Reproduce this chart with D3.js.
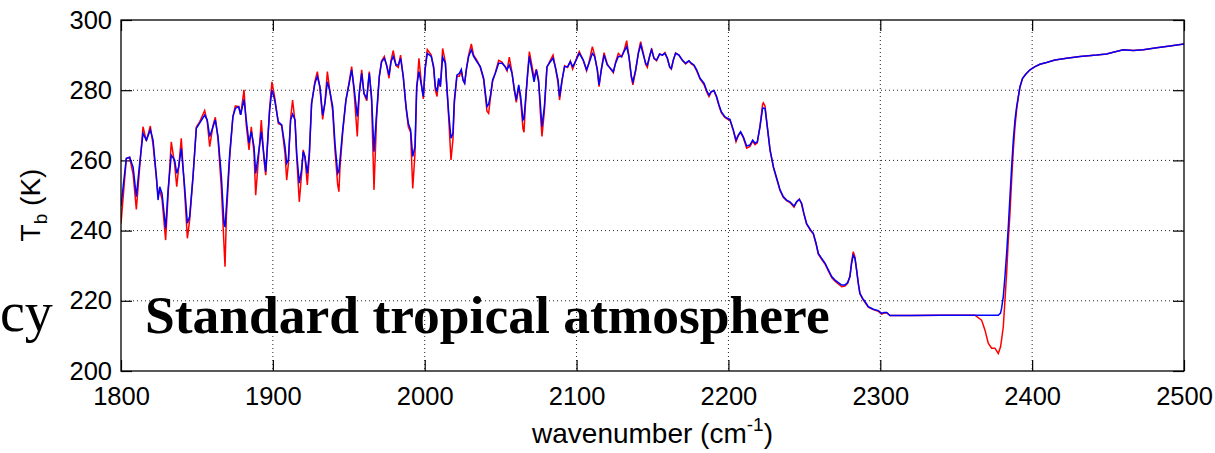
<!DOCTYPE html>
<html lang="en">
<head>
<meta charset="UTF-8">
<script src="https://d3js.org/d3.v7.min.js"></script>
<title>Tb spectrum</title>
<style>
  body { margin: 0; background: #fff; }
  svg { display: block; }
</style>
</head>
<body>
<script>
// wavenumber (cm-1) and brightness temperature of the two runs
var wavenumber = [
  1800, 1803.5, 1805.7, 1808, 1810.1, 1812.3, 1814.5, 1816.7, 1819.3, 1821.1,
  1823.3, 1824.4, 1825.5, 1827, 1829.4, 1831, 1833.1, 1835.3, 1836.7, 1838,
  1839.7, 1841.9, 1843.7, 1845.2, 1847.4, 1849.6, 1851.8, 1855.1, 1856.8, 1858.4,
  1860.6, 1862.1, 1863.9, 1866.1, 1867.8, 1868.5, 1869.4, 1871.6, 1873.7, 1875.3,
  1877.5, 1878.8, 1881, 1882.5, 1884.3, 1885.8, 1887.6, 1888.7, 1891.3, 1892.4,
  1894.2, 1895.3, 1897.9, 1899.4, 1901.2,
  1903.6, 1905.8, 1908, 1909.1, 1910.2, 1911.7, 1913, 1914.6, 1915.7, 1917.4,
  1918.9, 1920, 1921.1, 1922.7, 1924, 1925.5, 1927.7, 1929.3, 1931, 1932.8,
  1934.3, 1935.9, 1937.6, 1939.4, 1940.9, 1942.7, 1943.5, 1944.2, 1946, 1948.1,
  1950.3, 1951.9, 1953.4, 1955.6, 1956.9, 1958.5, 1960, 1961.8, 1963.5, 1965,
  1966.6, 1968.3, 1970.1, 1971.6, 1973.4, 1974.9, 1976.5, 1977.8, 1979.3, 1981.1,
  1982.6, 1984.1, 1985.9, 1987.7, 1989.2, 1990.7, 1992.1, 1993.6, 1994.7, 1996.2,
  1998, 1999.1, 2000.2, 2001.7,
  2004.3, 2005.9, 2007, 2008.1, 2009.2, 2010.3, 2011.8, 2013.6, 2014.7, 2015.8,
  2017.3, 2018.6, 2019.5, 2021.2, 2022.8, 2024.1, 2025.2, 2026.3, 2027.4, 2028.9,
  2030.7, 2032.2, 2034.4, 2036.6, 2038.8, 2041, 2042.1, 2043.2, 2044.7, 2046.5,
  2048.7, 2050.9, 2053.1, 2054.2, 2055.7, 2057.5, 2058.8, 2060.3, 2061.9, 2063.2,
  2064.7, 2065.4, 2066.2, 2067.8, 2068.9, 2070.6, 2072, 2073.5, 2075, 2076.1,
  2077.2, 2078.8, 2080.5, 2082.7, 2084.5, 2086, 2087.8, 2088.8, 2090.4, 2092.1,
  2094.1, 2095.9, 2097.4, 2098.7, 2100.3, 2101.8,
  2104.4, 2106.6, 2108.2, 2110.4, 2111.9, 2113.7, 2114.8, 2116.3, 2118.1, 2120.2,
  2122.4, 2124.2, 2125.7, 2127.5, 2129.7, 2131.2, 2133, 2134.5, 2136.1, 2137.1,
  2138.9, 2140.7, 2142.2, 2144, 2145.5, 2146.6, 2148.1, 2149.4, 2151, 2152.7,
  2154.7, 2156.5, 2158.2, 2159.8, 2161.3, 2162.4, 2163.7, 2165.2, 2167.4, 2169.6,
  2171.8, 2174, 2175.6, 2177.3, 2179.1, 2181.3, 2183.9, 2185.7, 2187.2, 2188.7,
  2190.5, 2192.2, 2193.8, 2195.3, 2197.5, 2199.3,
  2201, 2203.2, 2205, 2206.5, 2208, 2209.8, 2212, 2214.2, 2216, 2217.5,
  2219, 2220.8, 2222.5, 2223, 2224.1, 2225.6, 2227.4, 2229.6, 2231.8, 2234,
  2236.1, 2238.3, 2240.5, 2243.2, 2244.9, 2246.7, 2248.2, 2249.7, 2251.5, 2254.1,
  2255.9, 2257.7, 2259.2, 2261.4, 2263.6, 2265.8, 2268, 2270.2, 2272.4, 2274.6,
  2276.7, 2278.5, 2280, 2281.1, 2282.2, 2283.3, 2284.4, 2285.5, 2286.6, 2288.4,
  2289.9, 2292.1, 2295.4, 2298.7, 2300.9, 2302.4, 2304.2, 2306.4,
  2320, 2340, 2362.3, 2366.7, 2368.9, 2371.1, 2373.3, 2375.5, 2377.7, 2379.2,
  2379.9, 2381, 2382.1, 2383.2, 2384.3, 2385.4, 2386.5, 2387.6, 2388.7, 2389.8,
  2390.9, 2392, 2393.7, 2395.9, 2398.6, 2401.9, 2405.1, 2409.5, 2415, 2422.7,
  2431.5, 2442.5, 2449, 2453.4, 2460, 2466.6, 2473.2, 2482, 2490.7, 2500
];

var tbBlue = [
  247, 260.6, 260.9, 258, 249.7, 259.2, 267.7, 265.8, 268.7, 265.8,
  255.4, 248.7, 252.5, 250.6, 240.6, 251.6, 261.5, 260.1, 256.3, 258.2,
  263.4, 252.5, 242.1, 244, 255.4, 269.1, 270.6, 272.9, 271.5, 266.8,
  269.6, 271.5, 266.8, 255.4, 242.1, 241, 246.8, 262, 272.5, 274.8,
  275.3, 273, 277.4, 271.5, 264.9, 268.2, 263.9, 256.3, 264.4, 268.2,
  261.1, 256.8, 274.4, 280.1, 277.2,
  271, 270.1, 263.9, 259.2, 260.1, 271.5, 273.2, 271.5, 262, 253.5,
  257.3, 262.5, 261.1, 256.3, 262, 276.3, 282, 283.9, 281, 272.9,
  276.3, 282.4, 279.6, 275.3, 264.9, 256.3, 257, 260.1, 268.7, 277.2,
  282, 285.8, 281, 272.5, 279.1, 284.8, 279.1, 277.7, 284.8, 278.2,
  262.5, 273.4, 283.9, 288.1, 289.1, 287.2, 284.3, 288.1, 289.6, 287.2,
  287.2, 289.1, 283.9, 275.3, 270.6, 268.7, 261.1, 263.9, 281, 285.3,
  281, 278.2, 285.8, 290.5,
  289.6, 286.7, 281, 279.6, 283.4, 281, 289.4, 287.7, 280.1, 273.4,
  266.3, 267.7, 277.2, 284.3, 284.8, 285.9, 282.9, 282, 285.8, 289.6,
  291.5, 289.6, 288.1, 286.7, 283.4, 275.3, 276, 278.2, 282.9, 284.8,
  287.7, 287.7, 286.7, 285.8, 287.2, 284.8, 281, 277.2, 281.5, 278.2,
  271.5, 272, 276.3, 284.8, 289.6, 285.8, 282.4, 285.8, 282.4, 276.3,
  269.6, 275.3, 286.7, 288.1, 289.1, 286.7, 282.9, 278.2, 282.9, 286.7,
  286.7, 288.1, 286.7, 287.7, 289.1, 290.5,
  288.6, 285.8, 287.7, 290.5, 289.6, 285.8, 281.5, 285.8, 290, 287.2,
  286.2, 285.3, 287.7, 289.6, 289.6, 291, 292.4, 289.6, 283.9, 282.4,
  285.8, 290.5, 292.9, 290, 287.7, 287.2, 289.6, 291.5, 289.1, 288.6,
  290.3, 290, 290.5, 289.1, 286.7, 286.2, 288.6, 290.5, 290, 288.6,
  287.7, 288.4, 287.7, 287.2, 285.8, 283.4, 282, 279.9, 278.6, 279.6,
  279.9, 278.2, 275.8, 273.9, 272.5, 272,
  271.7, 268.7, 265.8, 267.2, 268.2, 266.7, 264.1, 264.4, 265.8, 264.9,
  265.3, 269.6, 274.8, 274.9, 274.8, 269.6, 263, 258.2, 254.9, 251.6,
  249.7, 248.7, 248.2, 247, 248.2, 248.9, 247.8, 244.9, 242, 240.2,
  239.2, 236.4, 233.5, 232.1, 230.7, 228.8, 226.9, 225.9, 225.2, 224.5,
  224.5, 225.2, 226.9, 230.7, 233, 232.1, 228.8, 225, 222.1, 220.7,
  219.8, 218.3, 217.6, 217.2, 216.4, 216.7, 216.7, 215.8,
  215.8, 215.9, 215.9, 215.9, 215.9, 215.9, 215.9, 215.9, 215.9, 216.5,
  217.9, 221.2, 226.9, 233.5, 241.1, 249.7, 258.2, 265.8, 271.5, 275.3,
  278.2, 281, 283.4, 284.6, 285.8, 286.7, 287.4, 287.9, 288.6, 289.1,
  289.6, 290, 290.3, 290.8, 291.5, 291.3, 291.5, 292.1, 292.6, 293.2
];

var tbRed = [
  242, 260.5, 260.9, 256, 246, 258, 269.6, 265.5, 269.8, 264.5,
  255, 250, 251.5, 249, 237.3, 250, 265.3, 259, 252.5, 258,
  266.3, 251, 237.8, 243, 255, 269.5, 271, 274.2, 271, 263.9,
  270, 272.3, 266, 252, 236, 229.7, 244, 261, 272.5, 275.5,
  275.3, 273, 280.1, 270, 263, 269.6, 262, 250.1, 265, 271.5,
  260, 255.8, 275, 282.4, 278,
  270.5, 270, 262, 254.4, 259, 272, 277.2, 271, 261, 248.2,
  256, 263, 261, 253, 261, 276, 282.5, 285.3, 280.5, 271.7,
  276.5, 285.3, 279.5, 274, 263, 253, 251.1, 258, 268, 277,
  282.5, 286.7, 280, 266.8, 279, 285.8, 279, 277, 285.3, 277,
  251.6, 272, 284, 288.3, 289.6, 287, 283.4, 288.5, 291.3, 287,
  286.5, 290, 283.5, 275, 269.6, 268, 252, 262, 280, 289.1,
  281, 277.5, 286, 291.6,
  290, 286, 280, 278.2, 283, 281, 291.9, 288, 280, 272,
  260.1, 266, 276, 284, 284, 285.5, 283, 282, 286, 290,
  293.2, 290, 288.5, 286.5, 283, 274, 273.4, 277.5, 282.5, 285,
  288.5, 288, 286.5, 285.5, 289.4, 285, 280.5, 276.5, 281, 277,
  269, 268, 275, 285, 291, 287, 283.5, 286, 283, 274,
  266.8, 274, 286.5, 288.5, 290, 286.5, 282, 277.2, 282.5, 287,
  286.5, 288.3, 286, 287.5, 289.5, 291,
  288.5, 285.5, 288, 292.4, 290, 285.5, 281, 286, 290.7, 287.5,
  286, 285, 288, 290.5, 289.5, 291.2, 294.1, 289.5, 283.5, 281.5,
  285.5, 290.8, 293.8, 290.5, 287.3, 286.5, 289.8, 291.9, 289, 288.4,
  290.3, 290, 290.7, 289, 286.5, 286, 288.5, 290.6, 290, 288.5,
  287.5, 288.3, 287.5, 287, 285.5, 283.2, 281.6, 279.5, 278.2, 279.5,
  279.8, 278, 275.5, 273.6, 272.3, 271.8,
  271.5, 268.5, 265.3, 267, 268, 266.5, 263.5, 264, 265.5, 264.5,
  265, 269.8, 276, 276.4, 275.5, 269.5, 263, 258, 254.7, 251.4,
  249.5, 248.5, 248, 246.7, 248.2, 249, 247.5, 244.7, 241.8, 240,
  239, 236.2, 233.3, 231.8, 230.5, 228.5, 226.6, 225.6, 224.8, 224,
  224.2, 225, 226.9, 231, 234, 232.5, 228.8, 225, 222, 220.5,
  219.6, 218.2, 217.5, 217, 216.2, 216.5, 216.6, 215.8,
  215.8, 215.9, 215.9, 214.5, 211.7, 207.9, 206.5, 206.5, 205, 206.9,
  209, 212.6, 220.2, 227.8, 237.3, 244.9, 254.4, 263, 269.6, 274.5,
  278, 281, 283.4, 284.6, 285.8, 286.7, 287.4, 287.9, 288.6, 289.1,
  289.6, 290, 290.3, 290.8, 291.5, 291.3, 291.5, 292.1, 292.6, 293.2
];

var xTicks = [1800, 1900, 2000, 2100, 2200, 2300, 2400, 2500];
var yTicks = [200, 220, 240, 260, 280, 300];

var width = 1215, height = 453;
var margin = {left: 121, top: 20, right: 31, bottom: 82};
var w = width - margin.left - margin.right;
var h = height - margin.top - margin.bottom;

var x = d3.scaleLinear().domain([1800, 2500]).range([0, w]);
var y = d3.scaleLinear().domain([200, 300]).range([h, 0]);

var svg = d3.select('body').append('svg')
    .attr('width', width)
    .attr('height', height);

var g = svg.append('g')
    .attr('transform', 'translate(' + margin.left + ',' + margin.top + ')');

// dotted grid
g.selectAll('.vgrid')
    .data(xTicks.slice(1, -1))
    .enter().append('line')
    .attr('x1', function(d) { return x(d); })
    .attr('x2', function(d) { return x(d); })
    .attr('y1', 0).attr('y2', h)
    .attr('stroke', '#222').attr('stroke-width', 1)
    .attr('stroke-dasharray', '1,3');
g.selectAll('.hgrid')
    .data(yTicks.slice(1, -1))
    .enter().append('line')
    .attr('x1', 0).attr('x2', w)
    .attr('y1', function(d) { return y(d); })
    .attr('y2', function(d) { return y(d); })
    .attr('stroke', '#222').attr('stroke-width', 1)
    .attr('stroke-dasharray', '1,3');

// axes, ticks pointing inward on all four sides
var tickFont = '"Liberation Sans", Arial, Helvetica, sans-serif';

var axisB = g.append('g')
    .attr('transform', 'translate(0,' + h + ')')
    .call(d3.axisBottom(x).tickValues(xTicks).tickSize(-11).tickPadding(16).tickFormat(d3.format('d')));
var axisL = g.append('g')
    .call(d3.axisLeft(y).tickValues(yTicks).tickSize(-11).tickPadding(9));
var axisT = g.append('g')
    .call(d3.axisTop(x).tickValues(xTicks).tickSize(-11).tickFormat(''));
var axisR = g.append('g')
    .attr('transform', 'translate(' + w + ',0)')
    .call(d3.axisRight(y).tickValues(yTicks).tickSize(-11).tickFormat(''));

[axisB, axisL, axisT, axisR].forEach(function(a) {
  a.select('.domain').remove();
  a.selectAll('line').attr('stroke', '#000').attr('stroke-width', 1.2);
  a.selectAll('text')
      .attr('fill', '#000')
      .style('font-family', tickFont)
      .style('font-size', '25.5px');
});

// curves
var data = wavenumber.map(function(d, i) {
  return {wn: d, blue: tbBlue[i], red: tbRed[i]};
});

g.append('clipPath').attr('id', 'plotclip')
  .append('rect').attr('width', w).attr('height', h);

var redLine = d3.line()
    .defined(function(d) { return d.red != null; })
    .x(function(d) { return x(d.wn); })
    .y(function(d) { return y(d.red); });
var blueLine = d3.line()
    .defined(function(d) { return d.blue != null; })
    .x(function(d) { return x(d.wn); })
    .y(function(d) { return y(d.blue); });

var curves = g.append('g').attr('clip-path', 'url(#plotclip)');
curves.append('path')
    .datum(data)
    .attr('d', redLine)
    .attr('fill', 'none')
    .attr('stroke', '#ff0000')
    .attr('stroke-width', 1.5);
curves.append('path')
    .datum(data)
    .attr('d', blueLine)
    .attr('fill', 'none')
    .attr('stroke', '#0000ff')
    .attr('stroke-width', 1.5);

// frame
g.append('rect')
    .attr('width', w).attr('height', h)
    .attr('fill', 'none')
    .attr('stroke', '#000')
    .attr('stroke-width', 1.3);

// axis titles
var xl = svg.append('text')
    .attr('x', margin.left + w / 2)
    .attr('y', 443)
    .attr('text-anchor', 'middle')
    .style('font-family', tickFont)
    .style('font-size', '28px');
xl.append('tspan').text('wavenumber (cm');
xl.append('tspan').attr('dy', -12).style('font-size', '19px').text('-1');
xl.append('tspan').attr('dy', 12).text(')');

var yl = svg.append('text')
    .attr('transform', 'translate(40,205) rotate(-90)')
    .attr('text-anchor', 'middle')
    .style('font-family', tickFont)
    .style('font-size', '28px');
yl.append('tspan').text('T');
yl.append('tspan').attr('dy', 7).style('font-size', '19px').text('b');
yl.append('tspan').attr('dy', -7).text(' (K)');

// slide text
svg.append('text')
    .attr('x', 145).attr('y', 333)
    .style('font-family', '"Liberation Serif", "Times New Roman", serif')
    .style('font-weight', 'bold')
    .style('font-size', '53.5px')
    .text('Standard tropical atmosphere');

svg.append('text')
    .attr('x', 0).attr('y', 331)
    .style('font-family', '"Liberation Serif", "Times New Roman", serif')
    .style('font-size', '56px')
    .text('cy');
</script>
</body>
</html>
